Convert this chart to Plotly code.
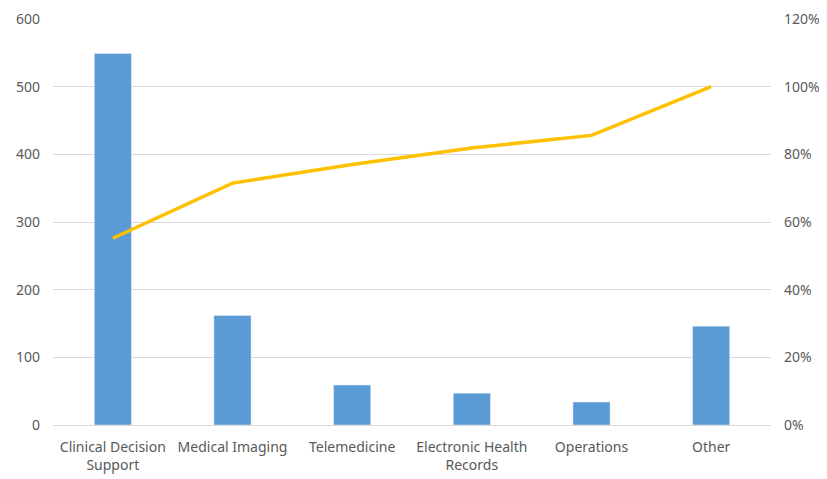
import plotly.graph_objects as go

categories = ["Clinical Decision<br>Support", "Medical Imaging", "Telemedicine",
              "Electronic Health<br>Records", "Operations", "Other"]
counts = [549, 162, 59, 47, 34, 146]
cumulative_pct = [55.2, 71.5, 77.0, 81.9, 85.6, 100.0]

fig = go.Figure()
fig.add_trace(go.Bar(x=categories, y=counts, marker_color="#5B9BD5",
                     width=0.31, name="Count"))
fig.add_trace(go.Scatter(x=categories, y=cumulative_pct, yaxis="y2", mode="lines",
                         line=dict(color="#FFC000", width=3.5), name="Cumulative %"))

font = dict(family="Noto Sans, Open Sans, sans-serif", size=14, color="#595959")
fig.update_layout(
    width=819, height=471,
    margin=dict(l=45, r=56, t=11, b=54, autoexpand=False),
    paper_bgcolor="white", plot_bgcolor="white",
    showlegend=False,
    font=font,
    xaxis=dict(showgrid=False, showline=True, linecolor="#d9d9d9", linewidth=1,
               ticks="", tickfont=font, ticklabelstandoff=9),
    yaxis=dict(range=[0, 600], dtick=100, showgrid=True, gridcolor="#d9d9d9",
               zeroline=False, showline=False, ticks="", tickfont=font,
               ticklabelstandoff=12),
    yaxis2=dict(range=[0, 120], dtick=20, overlaying="y", side="right",
                showgrid=False, zeroline=False, ticksuffix="%", ticks="",
                tickfont=font, ticklabelstandoff=12),
)
fig.write_html("out.html")
